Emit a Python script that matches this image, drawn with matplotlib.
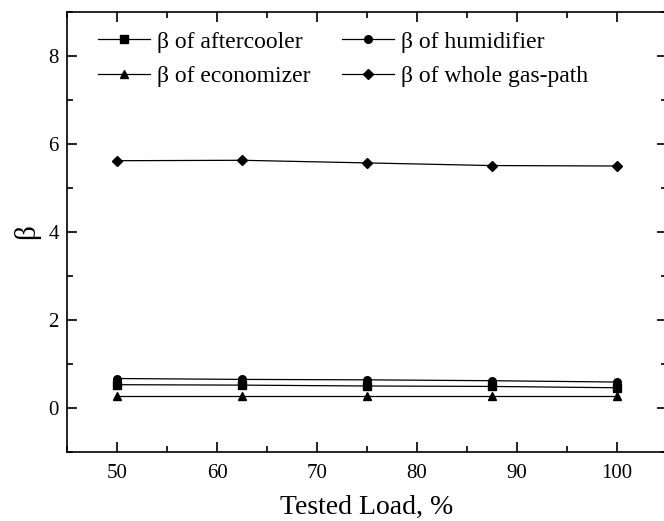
import matplotlib
matplotlib.use("Agg")
import matplotlib.pyplot as plt
from matplotlib.ticker import MultipleLocator

plt.rcParams['font.family'] = ['Liberation Serif', 'DejaVu Serif']

load = [50, 62.5, 75, 87.5, 100]
beta_aftercooler = [0.53, 0.52, 0.50, 0.49, 0.46]
beta_humidifier = [0.67, 0.65, 0.64, 0.62, 0.59]
beta_economizer = [0.28, 0.28, 0.28, 0.28, 0.28]
beta_whole = [5.62, 5.63, 5.57, 5.51, 5.50]
labels = ['β of aftercooler', 'β of humidifier', 'β of economizer', 'β of whole gas-path']

W, H = 664, 521
fig = plt.figure(figsize=(W/100, H/100), dpi=100)
ax_l, ax_r, ax_t, ax_b = 67, 667, 12, 452
ax = fig.add_axes([ax_l/W, 1 - ax_b/H, (ax_r-ax_l)/W, (ax_b-ax_t)/H])

ms = 5.5
h1, = ax.plot(load, beta_aftercooler, color='black', lw=0.9, marker='s', ms=ms, label=labels[0])
h2, = ax.plot(load, beta_humidifier, color='black', lw=0.9, marker='o', ms=ms, label=labels[1])
h3, = ax.plot(load, beta_economizer, color='black', lw=0.9, marker='^', ms=ms+0.5, label=labels[2])
h4, = ax.plot(load, beta_whole, color='black', lw=0.9, marker='D', ms=ms-0.5, label=labels[3])

ax.set_xlim(45, 105)
ax.set_ylim(-1, 9)
ax.set_xticks([50, 60, 70, 80, 90, 100])
ax.xaxis.set_minor_locator(MultipleLocator(5))
ax.yaxis.set_major_locator(MultipleLocator(2))
ax.yaxis.set_minor_locator(MultipleLocator(1))
ax.tick_params(which='both', direction='in', top=True, right=True, labelsize=15, width=1.2)
ax.tick_params(which='major', length=7)
ax.tick_params(which='minor', length=4)
ax.tick_params(axis='x', pad=9)
ax.tick_params(axis='y', pad=6)
for s in ax.spines.values():
    s.set_linewidth(1.2)

ax.set_xlabel('Tested Load, %', fontsize=20, labelpad=8)
ax.set_ylabel('β', fontsize=21, labelpad=6)

leg_x = (98 - ax_l) / (ax_r - ax_l)
leg_y = (ax_b - 31) / (ax_b - ax_t)
ax.legend([h1, h3, h2, h4], [labels[0], labels[2], labels[1], labels[3]],
          loc='upper left', ncol=2, frameon=False, fontsize=17,
          handlelength=2.2, handletextpad=0.3, columnspacing=1.35,
          labelspacing=0.55, borderaxespad=0, borderpad=0,
          bbox_to_anchor=(leg_x, leg_y))

fig.savefig('out.png', dpi=100)
